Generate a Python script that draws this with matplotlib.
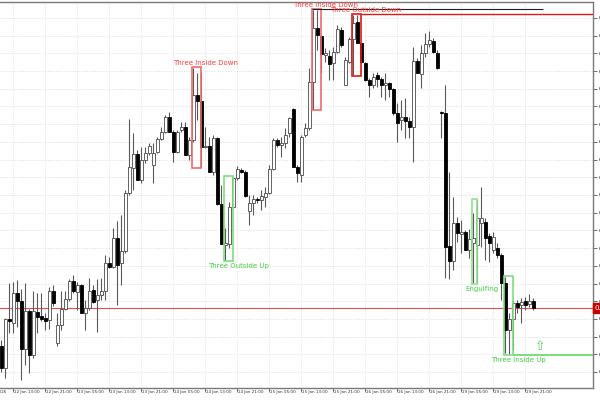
import numpy as np
import matplotlib
matplotlib.use("Agg")
import matplotlib.pyplot as plt
from matplotlib.patches import Rectangle
from matplotlib.ticker import FuncFormatter

# hourly candles, values in chart points
opens = [54, 32, 81, 77, 107, 99, 51, 89, 45, 88, 84, 82, 80, 109, 57, 75, 91, 101, 119, 108,
         115, 87, 92, 110, 100, 105, 109, 137, 133, 162, 137, 149, 207, 232, 246, 220, 240, 247, 235, 248,
         261, 268, 283, 268, 248, 270, 273, 245, 260, 305, 299, 253, 254, 228, 262, 196, 155, 156, 193, 222,
         230, 228, 189, 197, 201, 200, 203, 207, 231, 260, 255, 257, 267, 291, 233, 225, 265, 272, 318, 372,
         364, 345, 344, 337, 348, 370, 315, 338, 361, 378, 357, 337, 320, 315, 325, 321, 315, 317, 311, 287,
         280, 283, 279, 273, 339, 326, 347, 356, 359, 347, 288, 287, 154, 139, 177, 166, 168, 150, 157, 155,
         177, 178, 164, 150, 152, 145, 117, 70, 81, 97, 95, 99, 96, 99]
highs = [60, 82, 117, 118, 120, 111, 117, 91, 109, 107, 107, 87, 113, 115, 87, 109, 109, 121, 125, 118,
         116, 100, 122, 115, 121, 122, 145, 143, 172, 179, 185, 210, 281, 267, 250, 253, 253, 257, 257, 263,
         273, 285, 288, 270, 270, 278, 278, 263, 332, 327, 328, 273, 263, 265, 263, 215, 172, 198, 223, 234,
         232, 230, 205, 205, 203, 210, 213, 235, 262, 262, 263, 272, 283, 292, 235, 265, 277, 332, 390, 390,
         365, 352, 350, 353, 375, 373, 343, 363, 385, 385, 358, 338, 322, 327, 328, 323, 327, 318, 312, 297,
         300, 302, 283, 353, 342, 355, 367, 369, 362, 350, 289, 315, 228, 203, 183, 180, 170, 171, 187, 200,
         213, 182, 167, 168, 157, 147, 123, 87, 100, 100, 102, 103, 106, 102]
lows = [28, 22, 67, 67, 73, 20, 35, 27, 42, 67, 79, 70, 71, 94, 54, 70, 90, 99, 107, 90,
        87, 70, 90, 97, 68, 100, 100, 132, 132, 95, 115, 147, 205, 210, 220, 217, 237, 245, 217, 247,
        260, 267, 268, 238, 247, 268, 245, 240, 258, 280, 233, 252, 228, 225, 195, 156, 140, 152, 192, 220,
        227, 203, 175, 185, 197, 190, 193, 206, 230, 253, 243, 252, 263, 233, 218, 218, 263, 270, 291, 350,
        327, 338, 320, 320, 347, 353, 315, 337, 325, 357, 337, 319, 303, 312, 313, 303, 300, 303, 285, 258,
        270, 262, 262, 238, 327, 312, 343, 353, 347, 331, 262, 122, 121, 130, 158, 147, 150, 142, 117, 117,
        153, 140, 138, 147, 142, 100, 47, 46, 50, 87, 77, 90, 93, 90]
closes = [32, 81, 79, 107, 99, 51, 89, 45, 89, 83, 81, 79, 109, 97, 75, 91, 101, 119, 109, 115,
          87, 92, 109, 98, 105, 109, 137, 133, 162, 135, 149, 207, 233, 246, 220, 240, 247, 254, 247, 261,
          268, 283, 268, 248, 268, 273, 245, 260, 305, 299, 253, 254, 228, 262, 196, 156, 157, 193, 222, 231,
          228, 204, 197, 201, 200, 204, 207, 231, 260, 255, 257, 265, 282, 233, 227, 263, 272, 318, 372, 365,
          346, 347, 336, 348, 371, 355, 340, 361, 377, 357, 338, 320, 315, 323, 321, 315, 317, 311, 287, 277,
          283, 279, 273, 339, 327, 347, 356, 360, 348, 332, 287, 153, 139, 177, 167, 168, 150, 161, 162, 182,
          182, 162, 157, 163, 145, 117, 70, 81, 97, 93, 98, 95, 99, 92]

time_labels = ["12 Jan 13:00", "12 Jan 21:00", "13 Jan 05:00", "13 Jan 13:00", "13 Jan 21:00",
               "14 Jan 05:00", "14 Jan 13:00", "14 Jan 21:00", "15 Jan 05:00", "15 Jan 13:00",
               "15 Jan 21:00", "16 Jan 05:00", "16 Jan 13:00", "16 Jan 21:00", "19 Jan 05:00",
               "19 Jan 13:00", "19 Jan 21:00"]

# name, first candle, last candle, bullish?
patterns = [("Three Inside Down", 48, 50, False),
            ("Three Outside Up", 56, 58, True),
            ("Three Inside Down", 78, 80, False),
            ("Three Outside Down", 88, 90, False),
            ("Engulfing", 118, 119, True),
            ("Three Inside Up", 126, 128, True)]

rect_colors = {"Three Inside Down": "#f06a6a", "Three Outside Down": "#e01818",
               "Three Outside Up": "#80dc80", "Engulfing": "#8fe08f", "Three Inside Up": "#80dc80"}

o = np.array(opens, float)
h = np.array(highs, float)
l = np.array(lows, float)
c = np.array(closes, float)
idx = np.arange(len(o))

fig = plt.figure(figsize=(6, 4), dpi=100)
ax = fig.add_axes([0, 0.03, 593 / 600, 0.965])
ax.set_xlim(-0.25, 148)
ax.set_ylim(12, 398)

# grid
yt = np.arange(28, 383, 17.7)
xt = np.arange(3, len(o), 8)
for v in yt:
    ax.axhline(v, color="#dcdcdc", lw=0.5, ls=(0, (2, 2)), zorder=0)
for v in xt:
    ax.axvline(v, color="#dcdcdc", lw=0.5, ls=(0, (2, 2)), zorder=0)

# candles
ax.vlines(idx, l, h, color="#5a5a5a", lw=0.8, zorder=2)
up = c >= o
bottom = np.minimum(o, c)
height = np.maximum(np.abs(c - o), 0.8)
ax.bar(idx[up], height[up], bottom=bottom[up], width=0.75, color="white",
       edgecolor="#4a4a4a", lw=0.6, zorder=3)
ax.bar(idx[~up], height[~up], bottom=bottom[~up], width=0.75, color="black",
       edgecolor="black", lw=0.6, zorder=3)

# pattern boxes
for name, a, b, bull in patterns:
    top = h[a:b + 1].max() + 1
    bot = l[a:b + 1].min() - 1
    col = rect_colors[name]
    ax.add_patch(Rectangle((a - 0.3, bot), b - a + 0.4, top - bot, fill=False,
                           edgecolor=col, lw=1.2, zorder=4))
    tcol = "#44cc44" if bull else "#ff3b3b"
    if bull:
        ax.text(b + 1.25, bot - 2, name, color=tcol, fontsize=5, ha="center", va="top", zorder=5)
    else:
        ax.text(b + 1.25, top + 1, name, color=tcol, fontsize=5, ha="center", va="bottom", zorder=5)

# extended levels of the latest signals
a, b = patterns[2][1], patterns[2][2]
ax.hlines(h[a:b + 1].max() + 1, a - 0.3, 135.5, color="#202020", lw=0.8, zorder=4)
a, b = patterns[3][1], patterns[3][2]
ax.hlines(h[a:b + 1].max() + 1, b + 0.1, 148, color="#e01818", lw=1.0, zorder=4)
a, b = patterns[5][1], patterns[5][2]
lvl = l[a:b + 1].min() - 1
ax.hlines(lvl, b + 0.1, 148, color="#80dc80", lw=1.5, zorder=4)
ax.text(134.8, lvl + 2, "\u21e7", color="#55cc55", fontsize=9, ha="center", va="bottom", zorder=5)

# current price line
ax.axhline(c[-1], color="#e05050", lw=0.8, zorder=1)
ax.text(1.003, c[-1], "0.7645", transform=ax.get_yaxis_transform(), fontsize=5,
        color="white", va="center", ha="left",
        bbox=dict(boxstyle="square,pad=0.25", fc="#cc0000", ec="#cc0000"), clip_on=False)

# axes look
ax.spines["left"].set_visible(False)
for s in ["top", "right", "bottom"]:
    ax.spines[s].set_color("#7a7a7a")
    ax.spines[s].set_linewidth(1.0)
ax.yaxis.tick_right()
ax.set_yticks(yt)
ax.yaxis.set_major_formatter(FuncFormatter(lambda v, p: f"{0.7600 + (v - 28) / 17.7 * 0.001:.4f}"))
ax.tick_params(axis="y", length=3, width=0.6, color="#555555", labelsize=5, pad=1)
ax.set_xticks(xt)
ax.set_xticklabels([])
ax.tick_params(axis="x", length=3, width=0.6, color="#555555")
for pos, lab in zip(xt, time_labels):
    ax.text(pos + 0.3, -0.006, lab, transform=ax.get_xaxis_transform(), fontsize=3.0,
            ha="left", va="top", color="#333333", clip_on=False)
ax.text(1.3, -0.006, "12 Jan 2026", transform=ax.get_xaxis_transform(), fontsize=3.0,
        ha="right", va="top", color="#333333", clip_on=False)

fig.savefig("out.png", dpi=100)
